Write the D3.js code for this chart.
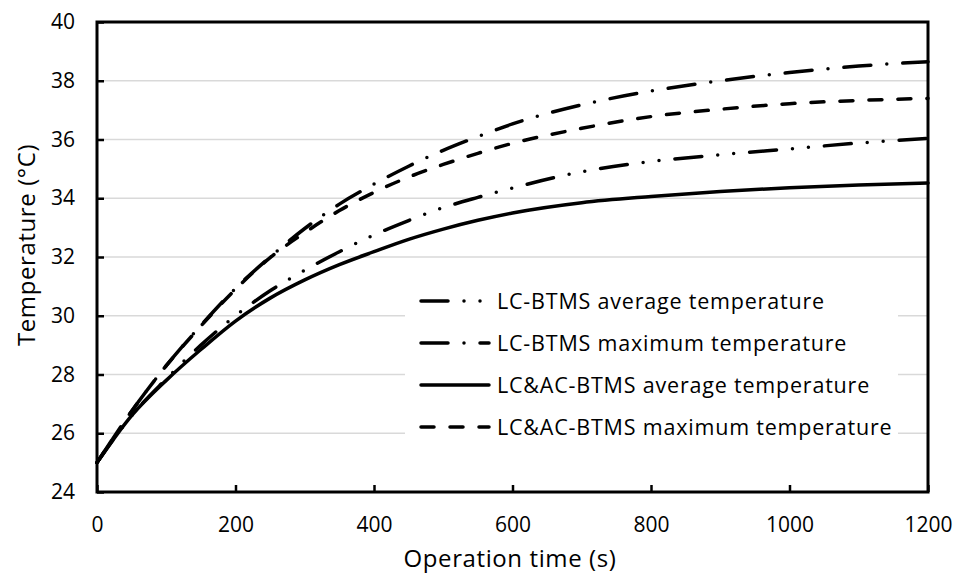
<!DOCTYPE html>
<html>
<head>
<meta charset="utf-8">
<script src="https://d3js.org/d3.v7.min.js"></script>
<style>
  body { margin: 0; background: #fff; }
  text { font-family: "Open Sans", sans-serif; fill: #000; }
</style>
</head>
<body>
<div id="chart"></div>
<script>
// operation time (s)
const times = [0, 50, 100, 150, 200, 250, 300, 350, 400, 450, 500, 550, 600, 700, 800, 900, 1000, 1100, 1200]
// temperatures (°C)
const lcAvg   = [25, 26.6, 27.85, 29.0, 30.0, 30.85, 31.55, 32.18, 32.75, 33.24, 33.68, 34.03, 34.35, 34.9, 35.25, 35.48, 35.68, 35.88, 36.04]
const lcMax   = [25, 26.75, 28.3, 29.67, 30.93, 32.0, 32.97, 33.8, 34.48, 35.09, 35.63, 36.1, 36.53, 37.18, 37.65, 38.0, 38.28, 38.5, 38.65]
const lcacAvg = [25, 26.6, 27.8, 28.85, 29.82, 30.6, 31.22, 31.74, 32.18, 32.6, 32.95, 33.25, 33.5, 33.85, 34.06, 34.23, 34.36, 34.45, 34.52]
const lcacMax = [25, 26.75, 28.3, 29.65, 30.9, 31.98, 32.83, 33.58, 34.2, 34.72, 35.15, 35.53, 35.87, 36.38, 36.78, 37.03, 37.22, 37.33, 37.4]

const seriesNames = ['LC-BTMS average temperature', 'LC-BTMS maximum temperature',
                     'LC&AC-BTMS average temperature', 'LC&AC-BTMS maximum temperature']
const xTicks = [0, 200, 400, 600, 800, 1000, 1200]
const yTicks = [24, 26, 28, 30, 32, 34, 36, 38, 40]

const w = 955, h = 574
const padLeft = 97, padRight = 928, padTop = 22, padBottom = 492

const series = [
  {name: seriesNames[0], values: lcAvg, dash: '27,16,0,16,0,16'},
  {name: seriesNames[1], values: lcMax, dash: '27,16,0,16'},
  {name: seriesNames[2], values: lcacAvg, dash: null},
  {name: seriesNames[3], values: lcacMax, dash: '13,16'}
]

const x = d3.scaleLinear().domain([0, 1200]).range([padLeft, padRight])
const y = d3.scaleLinear().domain([24, 40]).range([padBottom, padTop])

const svg = d3.select('#chart').append('svg')
  .attr('width', w)
  .attr('height', h)

// gridlines
svg.append('g')
  .selectAll('line')
  .data(yTicks.slice(1, -1))
  .enter()
  .append('line')
  .attr('x1', padLeft).attr('x2', padRight)
  .attr('y1', d => y(d)).attr('y2', d => y(d))
  .attr('stroke', '#d9d9d9')
  .attr('stroke-width', 1.3)

// axes
const yAxis = svg.append('g')
  .attr('transform', 'translate(' + padLeft + ',0)')
  .call(d3.axisLeft(y).tickValues(yTicks).tickSize(-7).tickPadding(22))
const xAxis = svg.append('g')
  .attr('transform', 'translate(0,' + padBottom + ')')
  .call(d3.axisBottom(x).tickValues(xTicks).tickFormat(d3.format('d')).tickSize(-7).tickPadding(25))

;[xAxis, yAxis].forEach(a => {
  a.select('.domain').remove()
  a.selectAll('.tick line').attr('stroke', '#000').attr('stroke-width', 2.5)
  a.selectAll('.tick text')
    .attr('font-family', '"Open Sans", sans-serif')
    .attr('font-size', 21)
    .attr('fill', '#000')
})

// lines
const line = d3.line()
  .x((d, i) => x(times[i]))
  .y(d => y(d))
  .curve(d3.curveMonotoneX)

svg.append('g')
  .selectAll('path')
  .data(series)
  .enter()
  .append('path')
  .attr('d', d => line(d.values))
  .attr('fill', 'none')
  .attr('stroke', '#000')
  .attr('stroke-width', 3.5)
  .attr('stroke-linecap', 'round')
  .attr('stroke-dasharray', d => d.dash)

// frame
svg.append('rect')
  .attr('x', padLeft).attr('y', padTop)
  .attr('width', padRight - padLeft).attr('height', padBottom - padTop)
  .attr('fill', 'none')
  .attr('stroke', '#000')
  .attr('stroke-width', 3)

// legend
const legend = svg.append('g')
legend.append('rect')
  .attr('x', 405).attr('y', 280)
  .attr('width', 493).attr('height', 172)
  .attr('fill', '#fff')

const item = legend.selectAll('.item')
  .data(series)
  .enter()
  .append('g')
  .attr('class', 'item')
  .attr('transform', (d, i) => 'translate(0,' + (301 + i * 42) + ')')

item.append('line')
  .attr('x1', 421).attr('x2', 489)
  .attr('stroke', '#000')
  .attr('stroke-width', 3.5)
  .attr('stroke-linecap', 'round')
  .attr('stroke-dasharray', d => d.dash)

item.append('text')
  .attr('x', 497)
  .attr('dy', '0.35em')
  .attr('font-size', 21.5)
  .attr('letter-spacing', 0.8)
  .text(d => d.name)

// axis titles
svg.append('text')
  .attr('x', 510)
  .attr('y', 559)
  .attr('dy', '0.35em')
  .attr('text-anchor', 'middle')
  .attr('font-size', 24)
  .attr('letter-spacing', 0.6)
  .text('Operation time (s)')

svg.append('text')
  .attr('transform', 'translate(27,245) rotate(-90)')
  .attr('dy', '0.35em')
  .attr('text-anchor', 'middle')
  .attr('font-size', 24)
  .attr('letter-spacing', 0.6)
  .text('Temperature (°C)')
</script>
</body>
</html>
